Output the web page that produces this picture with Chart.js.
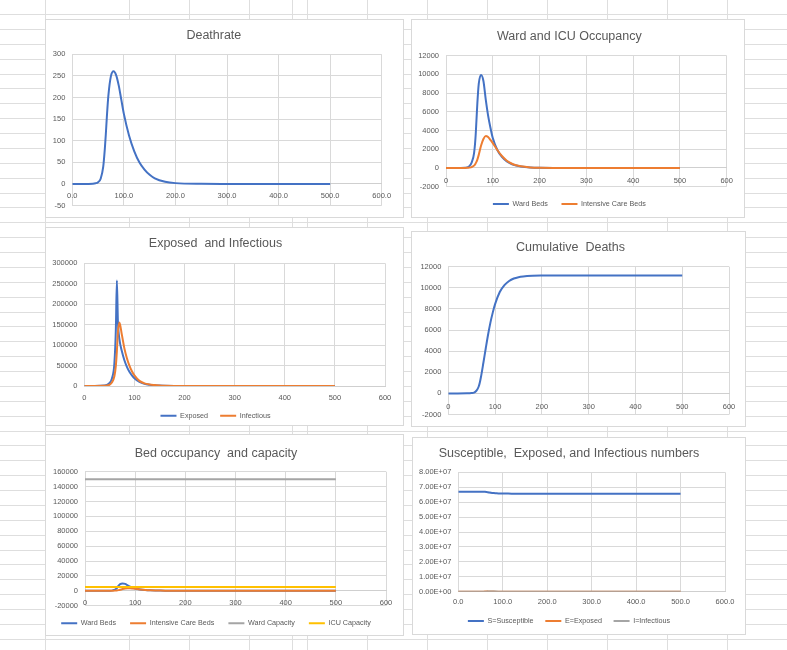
<!DOCTYPE html>
<html>
<head>
<meta charset="utf-8">
<script src="https://cdn.jsdelivr.net/npm/chart.js@4"></script>
<style>
  html, body { margin: 0; padding: 0; background: #fff; }
  body { width: 787px; height: 650px; position: relative; overflow: hidden; }
  #sheet { position: absolute; left: 0; top: 0; width: 787px; height: 650px; }
  .gl { position: absolute; background: #dedede; }
  .box { position: absolute; background: #fff; outline: 1px solid #d9d9d9; }
  .box canvas { display: block; }
</style>
</head>
<body>
<div id="sheet"></div>
<div class="box" style="left:46px;top:20px;width:357px;height:197px"><canvas id="deathRateChart" width="357" height="197"></canvas></div>
<div class="box" style="left:412px;top:20px;width:332px;height:197px"><canvas id="occupancyChart" width="332" height="197"></canvas></div>
<div class="box" style="left:46px;top:228px;width:357px;height:197px"><canvas id="exposedChart" width="357" height="197"></canvas></div>
<div class="box" style="left:412px;top:232px;width:333px;height:194px"><canvas id="deathsChart" width="333" height="194"></canvas></div>
<div class="box" style="left:46px;top:435px;width:357px;height:200px"><canvas id="capacityChart" width="357" height="200"></canvas></div>
<div class="box" style="left:413px;top:438px;width:332px;height:196px"><canvas id="seiChart" width="332" height="196"></canvas></div>
<script>
// model output (day -> value)
const days = [0, 20, 40, 45, 50, 55, 60, 63, 65, 67, 70, 75, 80, 85, 90, 95, 100, 110, 120, 130, 140, 150, 160, 180, 200, 250, 300, 400, 500];

const deathRate = [0, 0, 0.5, 1.5, 4, 12, 40, 80, 115, 155, 205, 250, 261, 252, 228, 195, 162, 112, 76, 50, 33, 21, 13, 5, 1.8, 0.2, 0, 0, 0];

const wardBeds = [0, 0, 20, 60, 200, 600, 1600, 3200, 5000, 6900, 9000, 9950, 9300, 7300, 5600, 4300, 3200, 1900, 1150, 700, 430, 270, 165, 60, 20, 2, 0, 0, 0];
const icuBeds = [0, 0, 5, 15, 40, 100, 250, 450, 650, 900, 1400, 2400, 3100, 3420, 3300, 3000, 2650, 1900, 1250, 780, 480, 290, 175, 60, 20, 2, 0, 0, 0];

const exposed = [0, 10, 1000, 2500, 7000, 18000, 55000, 140000, 258000, 160000, 115000, 85000, 63000, 47000, 35000, 26000, 19000, 10000, 5200, 3000, 1800, 1000, 550, 150, 40, 1, 0, 0, 0];
const infectious = [0, 5, 400, 1100, 3000, 8500, 24000, 50000, 85000, 130000, 155000, 125000, 92000, 68000, 50000, 36000, 26000, 12500, 6500, 3800, 2400, 1400, 800, 250, 60, 2, 0, 0, 0];

const cumulativeDeaths = [0, 0, 5, 15, 35, 80, 250, 450, 650, 950, 1600, 2900, 4250, 5550, 6700, 7650, 8450, 9600, 10250, 10650, 10880, 11010, 11080, 11140, 11160, 11170, 11170, 11170, 11170];

const susceptible = [67000000, 67000000, 67000000, 67000000, 66990000, 66970000, 66900000, 66800000, 66700000, 66600000, 66400000, 66200000, 66050000, 65950000, 65850000, 65800000, 65750000, 65720000, 65700000, 65700000, 65700000, 65700000, 65700000, 65700000, 65700000, 65700000, 65700000, 65700000, 65700000];

const capacityDays = [0, 500];
const wardCapacity = [150000, 150000];
const icuCapacity = [5000, 5000];

const xTicks = [0, 100, 200, 300, 400, 500, 600];

const BLUE = '#4472c4', ORANGE = '#ed7d31', GRAY = '#a5a5a5', GOLD = '#ffc000';
const TEXT = '#595959', GRID = '#d9d9d9';

// spreadsheet cell grid behind the charts
const sheet = document.getElementById('sheet');
const colLines = [45, 129, 189, 249, 292, 307, 367, 427, 487, 547, 607, 667, 727];
colLines.forEach(x => {
  const d = document.createElement('div');
  d.className = 'gl';
  d.style.cssText = `left:${x}px;top:0;width:1px;height:650px`;
  sheet.appendChild(d);
});
for (let y = 14; y < 650; y += 14.875) {
  const d = document.createElement('div');
  d.className = 'gl';
  d.style.cssText = `left:0;top:${Math.round(y)}px;width:787px;height:1px`;
  sheet.appendChild(d);
}

Chart.defaults.font.family = "'Liberation Sans', Arial, sans-serif";
Chart.defaults.color = TEXT;

function series(label, xs, ys, color, order) {
  return {
    label,
    data: xs.map((x, i) => ({ x, y: ys[i] })),
    borderColor: color,
    backgroundColor: color,
    borderWidth: 2,
    pointRadius: 0,
    cubicInterpolationMode: 'monotone',
    order
  };
}

function drawChart(id, cfg) {
  const legend = cfg.legendPad == null ? { display: false } : {
    display: true,
    position: 'bottom',
    labels: {
      usePointStyle: true,
      pointStyle: 'line',
      pointStyleWidth: 16,
      padding: cfg.legendPad,
      color: TEXT,
      font: { size: 7.2 },
      sort: (a, b) => a.datasetIndex - b.datasetIndex
    }
  };
  return new Chart(document.getElementById(id), {
    type: 'line',
    data: { datasets: cfg.datasets },
    options: {
      responsive: false,
      animation: false,
      layout: { padding: { left: 0, top: 0, right: cfg.padRight, bottom: cfg.padBottom } },
      plugins: {
        title: {
          display: true,
          text: cfg.title,
          color: TEXT,
          font: { size: 12.5, weight: 'normal' },
          padding: { top: cfg.titleTop, bottom: cfg.titleBottom }
        },
        legend,
        tooltip: { enabled: false }
      },
      scales: {
        x: {
          type: 'linear',
          min: 0,
          max: 600,
          position: cfg.xAt == null ? 'bottom' : { y: cfg.xAt },
          afterFit: s => { if (cfg.xAt == null) s.height = cfg.xHeight; },
          afterBuildTicks: s => { s.ticks = xTicks.map(v => ({ value: v })); },
          ticks: {
            color: TEXT,
            font: { size: 7.5 },
            padding: cfg.xPad,
            maxRotation: 0,
            autoSkip: false,
            callback: cfg.xFmt || (v => String(v))
          },
          grid: { color: GRID, drawTicks: false },
          border: { display: true, color: '#cfcfcf' }
        },
        y: {
          min: cfg.yMin,
          max: cfg.yMax,
          afterFit: s => { s.width = cfg.yWidth; },
          ticks: {
            stepSize: cfg.yStep,
            color: TEXT,
            font: { size: 7.5 },
            padding: 7,
            callback: cfg.yFmt || (v => String(v))
          },
          grid: { color: GRID, drawTicks: false },
          border: { display: false }
        }
      }
    }
  });
}

const oneDecimal = v => v.toFixed(1);

drawChart('deathRateChart', {
  title: 'Deathrate',
  titleTop: 8.2, titleBottom: 11.1,
  padRight: 21.3, padBottom: 10,
  yWidth: 26.3, yMin: -50, yMax: 300, yStep: 50,
  xAt: 0, xPad: 8, xFmt: oneDecimal,
  datasets: [series('Deathrate', days, deathRate, BLUE, 1)]
});

drawChart('occupancyChart', {
  title: 'Ward and ICU Occupancy',
  titleTop: 9.2, titleBottom: 11.5,
  padRight: 17.3, padBottom: -0.6,
  yWidth: 34, yMin: -2000, yMax: 12000, yStep: 2000,
  xAt: 0, xPad: 8,
  legendPad: 13.7,
  datasets: [
    series('Ward Beds', days, wardBeds, BLUE, 2),
    series('Intensive Care Beds', days, icuBeds, ORANGE, 1)
  ]
});

drawChart('exposedChart', {
  title: 'Exposed  and Infectious',
  titleTop: 8.5, titleBottom: 11.8,
  padRight: 18, padBottom: -4.3,
  yWidth: 38.3, yMin: 0, yMax: 300000, yStep: 50000,
  xHeight: 14, xPad: 7,
  legendPad: 12.1,
  datasets: [
    series('Exposed', days, exposed, BLUE, 2),
    series('Infectious', days, infectious, ORANGE, 1)
  ]
});

drawChart('deathsChart', {
  title: 'Cumulative  Deaths',
  titleTop: 7.8, titleBottom: 11.9,
  padRight: 16, padBottom: 7.7,
  yWidth: 36.3, yMin: -2000, yMax: 12000, yStep: 2000,
  xAt: 0, xPad: 9,
  datasets: [series('Cumulative Deaths', days, cumulativeDeaths, BLUE, 1)]
});

drawChart('capacityChart', {
  title: 'Bed occupancy  and capacity',
  titleTop: 10.8, titleBottom: 10.9,
  padRight: 17, padBottom: -1.9,
  yWidth: 39, yMin: -20000, yMax: 160000, yStep: 20000,
  xAt: 0, xPad: 8,
  legendPad: 14,
  datasets: [
    series('Ward Beds', days, wardBeds, BLUE, 4),
    series('Intensive Care Beds', days, icuBeds, ORANGE, 3),
    series('Ward Capacity', capacityDays, wardCapacity, GRAY, 2),
    series('ICU Capacity', capacityDays, icuCapacity, GOLD, 1)
  ]
});

drawChart('seiChart', {
  title: 'Susceptible,  Exposed, and Infectious numbers',
  titleTop: 8.5, titleBottom: 10.8,
  padRight: 20, padBottom: -0.6,
  yWidth: 45.3, yMin: 0, yMax: 80000000, yStep: 10000000,
  yFmt: v => v.toExponential(2).replace('e+', 'E+0'),
  xHeight: 14, xPad: 6, xFmt: oneDecimal,
  legendPad: 11.7,
  datasets: [
    series('S=Susceptible', days, susceptible, BLUE, 3),
    series('E=Exposed', days, exposed, ORANGE, 2),
    series('I=Infectious', days, infectious, GRAY, 1)
  ]
});
</script>
</body>
</html>
